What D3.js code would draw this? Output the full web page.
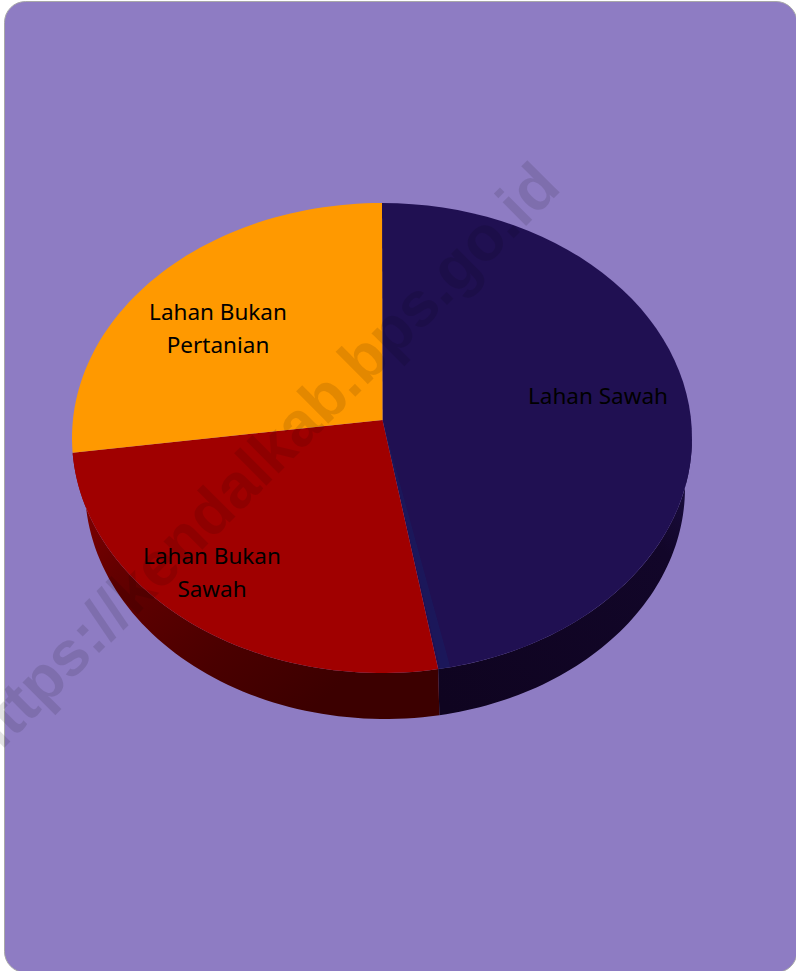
<!DOCTYPE html>
<html>
<head>
<meta charset="utf-8">
<script src="https://cdn.jsdelivr.net/npm/d3@7/dist/d3.min.js"></script>
<style>html,body{margin:0;padding:0;background:#fff;overflow:hidden}svg{display:block}</style>
</head>
<body>
<svg id="chart" width="796" height="971"></svg>
<script>
// Data (top level)
const categories = ["Lahan Sawah", "Lahan Bukan Sawah", "Lahan Bukan Pertanian"];
const values = [47.1, 26.9, 26.0];
const topColors = ["#201052", "#a00000", "#ff9900"];
const labelLines = [["Lahan Sawah"], ["Lahan Bukan", "Sawah"], ["Lahan Bukan", "Pertanian"]];
const labelAnchors = [[598, 396], [212, 556], [218, 312]];

const svg = d3.select("#chart");
const defs = svg.append("defs");

// page card
svg.append("rect").attr("x", 4.5).attr("y", 1.5).attr("width", 792.5).attr("height", 971)
   .attr("rx", 21).attr("fill", "#8e7cc3").attr("stroke", "#a8a8a8").attr("stroke-width", 1);

// geometry of the tilted pie
const topE = {cx: 382, cy: 438, rx: 310, ry: 235};
const botE = {cx: 385, cy: 488, rx: 300, ry: 231};
const apex = [382.5, 420];

const sx = e => d3.scaleLinear().domain([-1, 1]).range([e.cx - e.rx, e.cx + e.rx]);
const sy = e => d3.scaleLinear().domain([-1, 1]).range([e.cy + e.ry, e.cy - e.ry]);
const onE = (e, t) => [sx(e)(Math.sin(t)), sy(e)(Math.cos(t))];
const sample = (a, b) => d3.range(0, 61).map(i => a + (b - a) * i / 60);
const line = d3.line();

const arcs = d3.pie().sort(null).value(d => d)(values);
const HALF = Math.PI / 2, WALL_END = arcs[1].endAngle;

// wall gradients
const gradRed = defs.append("linearGradient").attr("id", "wallRed")
  .attr("gradientUnits", "userSpaceOnUse").attr("x1", 75).attr("y1", 470).attr("x2", 300).attr("y2", 720);
gradRed.append("stop").attr("offset", 0).attr("stop-color", "#8a0000");
gradRed.append("stop").attr("offset", 0.3).attr("stop-color", "#640000");
gradRed.append("stop").attr("offset", 0.7).attr("stop-color", "#4a0000");
gradRed.append("stop").attr("offset", 1).attr("stop-color", "#3c0000");
const gradNavy = defs.append("linearGradient").attr("id", "wallNavy")
  .attr("gradientUnits", "userSpaceOnUse").attr("x1", 440).attr("y1", 700).attr("x2", 690).attr("y2", 480);
gradNavy.append("stop").attr("offset", 0).attr("stop-color", "#0f0420");
gradNavy.append("stop").attr("offset", 0.8).attr("stop-color", "#120629");
gradNavy.append("stop").attr("offset", 1).attr("stop-color", "#1a0d40");

// side walls
const wallPieces = [
  {a: HALF, b: arcs[0].endAngle, fill: "url(#wallNavy)"},
  {a: arcs[1].startAngle, b: WALL_END, fill: "url(#wallRed)"}
];
svg.append("g").selectAll("path").data(wallPieces).join("path")
  .attr("fill", d => d.fill)
  .attr("d", d => {
    const ts = sample(d.a, d.b);
    return line(ts.map(t => onE(topE, t)).concat(ts.slice().reverse().map(t => onE(botE, t)))) + "Z";
  });

// top faces
const wedge = (a, b) => line([apex].concat(sample(a, b).map(t => onE(topE, t)))) + "Z";
svg.append("g").selectAll("path").data(arcs).join("path")
  .attr("fill", (d, i) => topColors[i])
  .attr("d", d => wedge(d.startAngle, d.endAngle));

// faint blue streak next to the navy/red boundary
const streak = arcs[0].endAngle;
svg.append("path").attr("fill", "#14246a").attr("opacity", 0.35)
  .attr("d", wedge(streak - 0.04, streak - 0.006));

// watermark
svg.append("text")
  .attr("transform", "translate(-14,766) rotate(-45)")
  .attr("font-family", "Liberation Sans, Arial, sans-serif")
  .attr("font-weight", 700).attr("font-size", 63)
  .attr("fill", "#000").attr("fill-opacity", 0.11)
  .text("https://kendalkab.bps.go.id");

// labels
const lg = svg.append("g").attr("font-family", "'Noto Sans', sans-serif")
  .attr("font-size", 22.5).attr("fill", "#000").attr("text-anchor", "middle");
labelLines.forEach((lines, i) => {
  lines.forEach((s, j) => {
    lg.append("text").attr("x", labelAnchors[i][0]).attr("y", labelAnchors[i][1] + j * 32.5)
      .attr("dy", "0.36em").text(s);
  });
});
</script>
</body>
</html>
